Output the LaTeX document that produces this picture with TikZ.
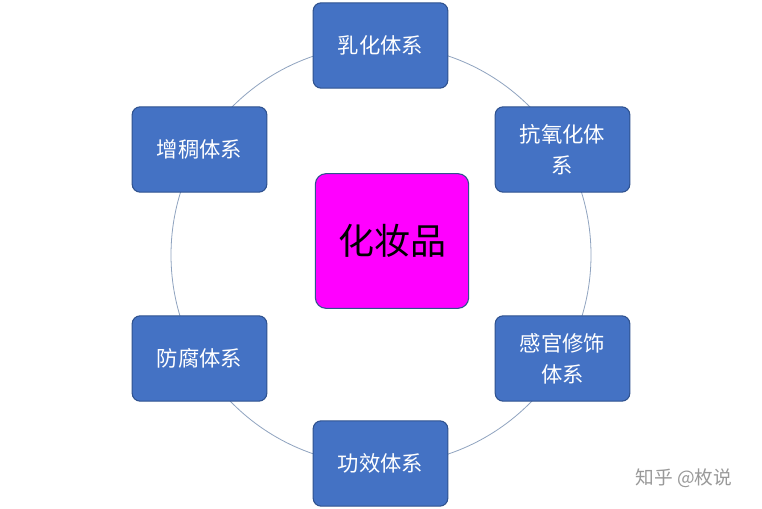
\documentclass[tikz,border=0pt]{standalone}
\usepackage{fontspec}
\setmainfont{Noto Sans CJK SC}
\definecolor{boxblue}{HTML}{4472C4}
\definecolor{boxedge}{HTML}{2F528F}
\definecolor{ring}{HTML}{8FA3BF}
\definecolor{hubfill}{RGB}{255,0,255}
\begin{document}
\begin{tikzpicture}[x=0.75pt,y=-0.75pt,
  box/.style={draw=boxedge,line width=0.8pt,fill=boxblue,rounded corners=6pt,
    minimum width=101pt,minimum height=64pt,text width=90pt,align=center,
    text=white,font=\fontsize{16}{23}\selectfont},
  hub/.style={draw=boxedge,line width=0.8pt,fill=hubfill,rounded corners=8pt,
    minimum width=115pt,minimum height=101pt,align=center,
    font=\fontsize{27}{32}\selectfont}]
\useasboundingbox (0,0) rectangle (762,509);
\fill[white] (0,0) rectangle (762,509);
\node[draw=ring,line width=0.6pt,circle,minimum size=315pt,inner sep=0pt] (ring) at (381,255) {};
\node[hub] (c) at (392,241) {化妆品};
\node[box] (a) at (380.5,45.5) {乳化体系};
\node[box] (b) at (562.5,149.5) {抗氧化体\\系};
\node[box] (d) at (562.5,358.5) {感官修饰\\体系};
\node[box] (e) at (380.5,463.5) {功效体系};
\node[box] (f) at (199.5,358.5) {防腐体系};
\node[box] (g) at (199.5,149.5) {增稠体系};
\node[text=gray!80,font=\fontsize{14}{16}\selectfont] (w) at (684,478) {知乎 @枚说};
\end{tikzpicture}
\end{document}
